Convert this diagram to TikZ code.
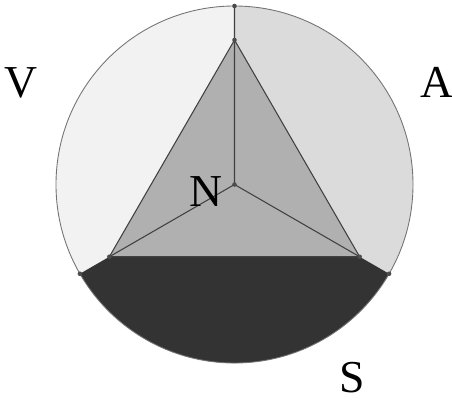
\documentclass[tikz,border=0pt]{standalone}
\usepackage{fontspec}
\setmainfont{Liberation Serif}
\usetikzlibrary{positioning, calc}
\tikzset{region/.style={line width=0.4pt},
rim/.style={draw=black!55, line width=0.5pt},
spoke/.style={draw=black!75, line width=0.6pt},
dot_t/.style={circle, fill=black!70, inner sep=0pt, minimum size=2.6pt},
letter/.style={font=\fontsize{26}{30}\selectfont, inner sep=0pt}}

\begin{document}
\begin{tikzpicture}
  \useasboundingbox (-4.69,-4.33) rectangle (4.35,3.69);
  \def\R{3.57}
  \def\r{2.89}
  % points on circle and triangle
  \coordinate (O) at (0,0);
  \coordinate (ctop) at (90:\R);
  \coordinate (cleft) at (210:\R);
  \coordinate (cright) at (330:\R);
  \coordinate (ttop) at (90:\r);
  \coordinate (tleft) at (210:\r);
  \coordinate (tright) at (330:\r);
  % sectors
  \fill[black!5] (ctop) arc[start angle=90, end angle=210, radius=\R] -- (tleft) -- (ttop) -- cycle;
  \fill[black!14] (ctop) arc[start angle=90, end angle=-30, radius=\R] -- (tright) -- (ttop) -- cycle;
  \fill[black!31] (ttop) -- (tleft) -- (tright) -- cycle;
  \fill[black!80] (cleft) -- (tleft) -- (tright) -- (cright) arc[start angle=-30, end angle=-150, radius=\R] -- cycle;
  \draw[rim] (O) circle[radius=\R];
  % lines
  \draw[spoke] (ttop) -- (tleft) -- (tright) -- cycle;
  \draw[spoke] (O) -- (ttop) (O) -- (tleft) (O) -- (tright) (ttop) -- (ctop);
  \foreach \p in {O, ctop, cleft, cright, ttop, tleft, tright}
    \node[dot_t] at (\p) {};
  % labels
  \node[letter] (lv) at (-4.27,2.03) {V};
  \node[letter] (la) at (4.05,2.05) {A};
  \node[letter] (ln) at (-0.57,-0.15) {N};
  \node[letter] (ls) at (2.35,-3.87) {S};
\end{tikzpicture}
\end{document}
